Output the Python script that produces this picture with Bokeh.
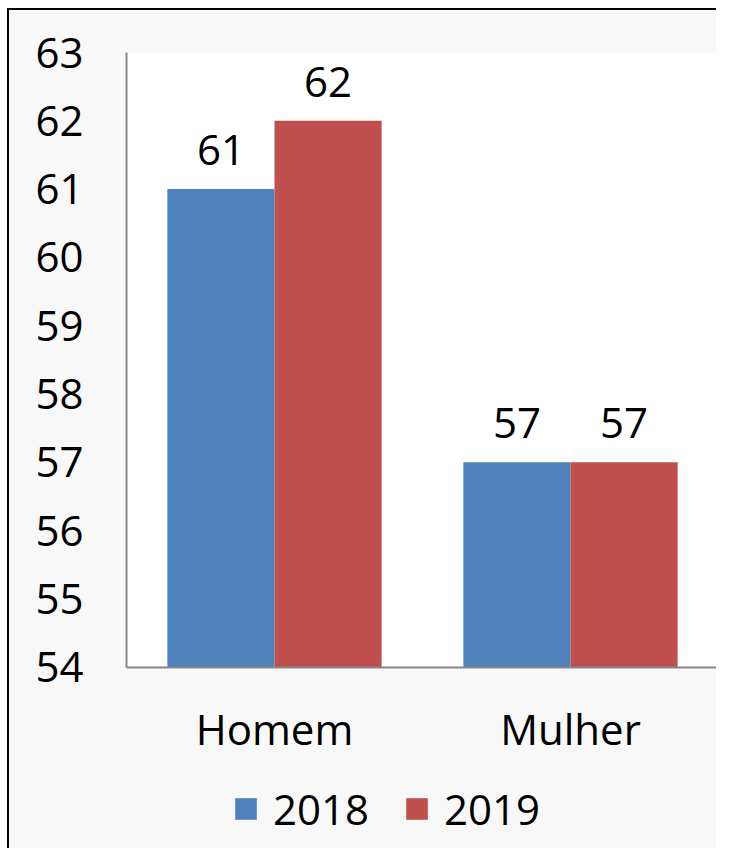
from bokeh.plotting import figure
from bokeh.models import FactorRange, Range1d, Legend, LegendItem, ColumnDataSource, FixedTicker, BoxAnnotation
from bokeh.transform import dodge
from bokeh.core.properties import value
from bokeh.embed import file_html
from bokeh.resources import INLINE

categories = ["Homem", "Mulher"]
years = ["2018", "2019"]
values_2018 = [61, 57]
values_2019 = [62, 57]
colors = ["#4f81bd", "#c0504d"]
y_ticks = [54, 55, 56, 57, 58, 59, 60, 61, 62, 63]
y_min, y_max = 54, 63

FONT = "Open Sans"
FS = "42px"

src = ColumnDataSource(dict(
    cat=categories,
    v2018=values_2018,
    v2019=values_2019,
    t2018=[str(v) for v in values_2018],
    t2019=[str(v) for v in values_2019],
))

# frame extends below the value axis so the legend can sit inside it
p = figure(x_range=FactorRange(*categories), y_range=Range1d(y_min - 2.682, y_max),
           width=709, height=840, output_backend="svg", toolbar_location=None,
           min_border_left=117, min_border_right=0, min_border_top=42, min_border_bottom=0)
p.styles = {"border-left": "2px solid black", "border-top": "2px solid black",
            "transform": "translate(7px, 8px)"}

p.background_fill_color = "#f8f8f8"
p.border_fill_color = "#f8f8f8"
p.outline_line_color = None
p.xgrid.grid_line_color = None
p.ygrid.grid_line_color = None
p.add_layout(BoxAnnotation(bottom=y_min, top=y_max, fill_color="#ffffff", fill_alpha=1,
                           line_color=None, level="underlay"))

bw = 0.362
r1 = p.vbar(x=dodge("cat", -bw / 2, range=p.x_range), top="v2018", bottom=y_min, width=bw,
            source=src, fill_color=colors[0], line_color=None)
r2 = p.vbar(x=dodge("cat", bw / 2, range=p.x_range), top="v2019", bottom=y_min, width=bw,
            source=src, fill_color=colors[1], line_color=None)

for off, col in [(-bw / 2, "t2018"), (bw / 2, "t2019")]:
    ycol = "v2018" if col == "t2018" else "v2019"
    p.text(x=dodge("cat", off, range=p.x_range), y=ycol, text=col, source=src,
           text_align="center", text_baseline="alphabetic", y_offset=-39,
           text_font=value(FONT), text_font_size=FS, text_color="#000000")

for ax in (p.xaxis, p.yaxis):
    ax.axis_line_color = "#868686"
    ax.axis_line_width = 2
    ax.major_tick_line_color = None
    ax.minor_tick_line_color = None
    ax.major_label_text_font = FONT
    ax.major_label_text_font_size = FS
    ax.major_label_text_color = "#000000"

p.yaxis.ticker = FixedTicker(ticks=y_ticks)
p.yaxis.bounds = (y_min, y_max)
p.yaxis.major_label_standoff = 37
p.xaxis.fixed_location = y_min
p.xaxis.major_label_standoff = 27

legend = Legend(items=[LegendItem(label=years[0], renderers=[r1]),
                       LegendItem(label=years[1], renderers=[r2])],
                location=(106, 13), orientation="horizontal",
                padding=0, margin=0, spacing=34, label_standoff=14,
                glyph_width=27, glyph_height=27,
                label_text_font=FONT, label_text_font_size=FS, label_text_color="#000000",
                background_fill_alpha=0, border_line_color=None)
p.add_layout(legend)

open("out.html", "w").write(file_html(p, INLINE))
